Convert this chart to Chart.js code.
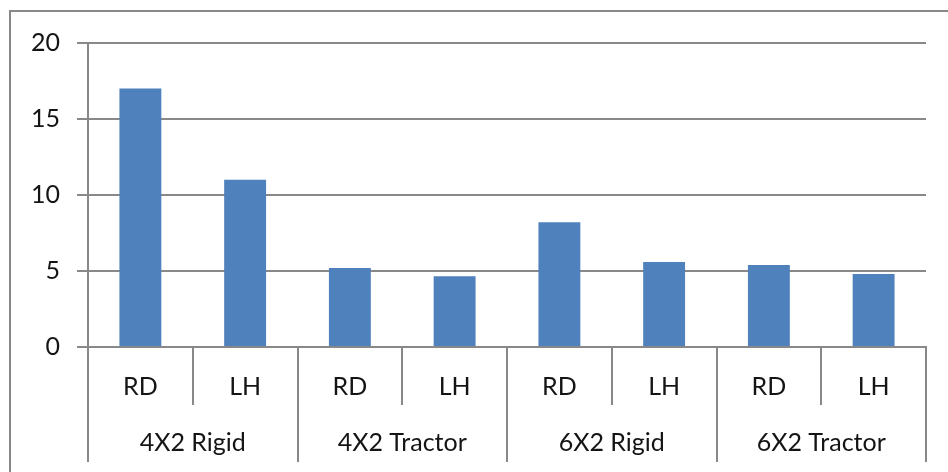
<!DOCTYPE html>
<html>
<head>
<meta charset="utf-8">
<script src="https://cdn.jsdelivr.net/npm/chart.js@4"></script>
<style>
  html, body { margin: 0; padding: 0; background: #fff; }
  #wrap { width: 948px; height: 472px; }
</style>
</head>
<body>
<div id="wrap"><canvas id="myChart" width="948" height="472"></canvas></div>
<script>
// data
var subLabels = ['RD', 'LH', 'RD', 'LH', 'RD', 'LH', 'RD', 'LH'];
var groupLabels = ['4X2 Rigid', '4X2 Tractor', '6X2 Rigid', '6X2 Tractor'];
var values = [17, 11, 5.2, 4.65, 8.2, 5.6, 5.4, 4.8];
var yTicks = [0, 5, 10, 15, 20];

var gray = '#888888';
var textColor = '#141414';

Chart.defaults.font.family = 'Lato, "Liberation Sans", sans-serif';
Chart.defaults.font.size = 25;
Chart.defaults.color = textColor;

// white background and the outer frame of the chart
var framePlugin = {
    id: 'frame',
    beforeDraw: function (chart) {
        var c = chart.ctx;
        c.save();
        c.fillStyle = '#fff';
        c.fillRect(0, 0, chart.width, chart.height);
        c.strokeStyle = gray;
        c.lineWidth = 2;
        c.strokeRect(10, 11, 1000, 600);
        c.restore();
    }
};

var ctx = document.getElementById('myChart').getContext('2d');
var chart = new Chart(ctx, {
    type: 'bar',
    data: {
        labels: subLabels,
        datasets: [{
            data: values,
            backgroundColor: '#4F81BD',
            borderWidth: 0,
            categoryPercentage: 1,
            barPercentage: 0.4
        }]
    },
    options: {
        responsive: false,
        animation: false,
        layout: { padding: { left: 0, top: 43, right: 22, bottom: 10 } },
        plugins: {
            legend: { display: false },
            tooltip: { enabled: false }
        },
        scales: {
            y: {
                min: 0,
                max: 20,
                afterBuildTicks: function (scale) {
                    scale.ticks = yTicks.map(function (v) { return { value: v }; });
                },
                afterFit: function (scale) { scale.width = 88; },
                ticks: { padding: 17, color: textColor },
                grid: { color: gray, lineWidth: 2, tickLength: 11 },
                border: { display: true, color: gray, width: 2 }
            },
            x: {
                weight: 0,
                offset: true,
                afterFit: function (scale) { scale.height = 58; },
                ticks: { padding: -33, color: textColor, maxRotation: 0, autoSkip: false },
                grid: { offset: true, drawOnChartArea: false, tickLength: 58, color: gray, lineWidth: 2 },
                border: { display: true, color: gray, width: 2 }
            },
            x2: {
                type: 'category',
                position: 'bottom',
                weight: 1,
                labels: groupLabels,
                offset: true,
                afterFit: function (scale) { scale.height = 57; },
                ticks: { padding: -34, color: textColor, maxRotation: 0, autoSkip: false },
                grid: { offset: true, drawOnChartArea: false, tickLength: 57, color: gray, lineWidth: 2 },
                border: { display: false }
            }
        }
    },
    plugins: [framePlugin]
});
</script>
</body>
</html>
